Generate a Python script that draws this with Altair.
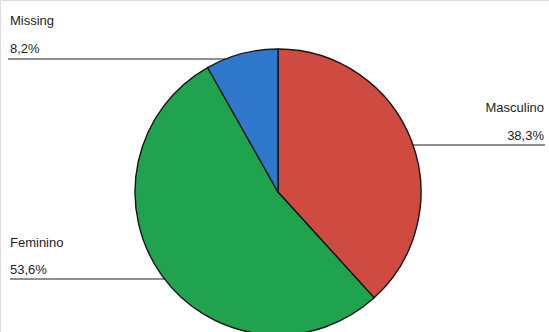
import altair as alt
import pandas as pd

categories = ["Masculino", "Feminino", "Missing"]
values = [38.3, 53.6, 8.2]
pct_labels = ["38,3%", "53,6%", "8,2%"]
colors = ["#cf4a40", "#1fa34e", "#2f78cc"]

df = pd.DataFrame({"cat": categories, "val": values, "pct": pct_labels,
                   "order": list(range(len(categories)))})

W, H = 549, 332
CX, CY, R = 278, 192, 143

pie = alt.Chart(df).mark_arc(outerRadius=R, stroke="#161616", strokeWidth=1.4).encode(
    theta=alt.Theta("val:Q", stack=True),
    order=alt.Order("order:Q"),
    color=alt.Color("cat:N", scale=alt.Scale(domain=categories, range=colors), legend=None),
    x=alt.value(CX), y=alt.value(CY),
)

font = "Liberation Sans"
def label(i, x, y_name, y_pct, align, lx1, lx2, ly):
    d = df.iloc[[i]]
    base = alt.Chart(d)
    name = base.mark_text(align=align, baseline="alphabetic", fontSize=13, font=font, color="#1e1e1e").encode(
        text="cat:N", x=alt.value(x), y=alt.value(y_name))
    pct = base.mark_text(align=align, baseline="alphabetic", fontSize=13, font=font, color="#1e1e1e").encode(
        text="pct:N", x=alt.value(x), y=alt.value(y_pct))
    line = base.mark_rule(color="#222222", strokeWidth=1.2).encode(
        x=alt.value(lx1), x2=alt.value(lx2), y=alt.value(ly))
    return [name, pct, line]

layers = []
layers += label(0, 544, 112, 140, "right", 405, 545, 145)
layers += label(1, 10, 247, 274, "left", 10, 175, 279)
layers += label(2, 10, 25, 53, "left", 8, 240, 59)
layers.append(pie)

chart = alt.layer(*layers).properties(
    width=W, height=H, padding=0, autosize=alt.AutoSizeParams(type="none")
).configure_view(stroke=None).configure(background="white")

chart.save("out.html", embed_options={"renderer": "svg", "actions": False})
